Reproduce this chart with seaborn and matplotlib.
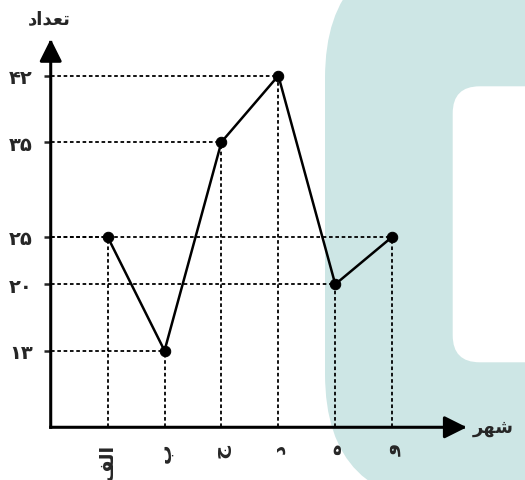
import matplotlib
matplotlib.use('Agg')
import matplotlib.pyplot as plt
from matplotlib.patches import FancyBboxPatch
import numpy as np
import pandas as pd
import seaborn as sns

# counts per city (cities: الف، ب، ج، د، ه، و)
# matplotlib has no arabic shaping, so multi-letter words are written
# in presentation forms, in visual (left to right) order
cities = ['\ufed2\ufedf\ufe8d', '\u0628', '\u062c', '\u062f', '\u0647', '\u0648']
counts = [25, 13, 35, 42, 20, 25]

y_ticks = [13, 20, 25, 35, 42]
y_tick_labels = ['\u06f1\u06f3', '\u06f2\u06f0', '\u06f2\u06f5', '\u06f3\u06f5', '\u06f4\u06f2']

x_title = '\ufeae\ufeec\ufeb7'              # شهر
y_title = '\ufea9\ufe8d\ufeaa\ufecc\ufe97'  # تعداد

sns.set_style('white')
plt.rcParams['font.family'] = ['DejaVu Sans']
plt.rcParams['font.weight'] = 'bold'

fig = plt.figure(figsize=(5.25, 4.81), dpi=100)

# teal watermark behind the chart (inches, so the corners stay round)
teal = FancyBboxPatch((3.25, -0.24), 4.0, 5.56, boxstyle='round,pad=0,rounding_size=1.3',
                      transform=fig.dpi_scale_trans, facecolor='#cde6e5',
                      edgecolor='none', zorder=-2)
hole = FancyBboxPatch((4.527, 1.177), 1.5, 2.76, boxstyle='round,pad=0,rounding_size=0.27',
                      transform=fig.dpi_scale_trans, facecolor='white',
                      edgecolor='none', zorder=-1)
fig.add_artist(teal)
fig.add_artist(hole)

ax = fig.add_axes([0.0966, 0.1096, 0.7924, 0.8073])
ax.patch.set_visible(False)

x_left, x_right = -1, 6.31
y_bottom, y_top = 4.92, 45.87

df = pd.DataFrame({'pos': np.arange(len(cities)), 'count': counts})

# dotted guides from each point to both axes
dots = (0, (2, 1.5))
ax.hlines(df['count'], x_left, df['pos'], colors='black', linestyles=dots, lw=1.3, zorder=1)
ax.vlines(df['pos'], y_bottom, df['count'], colors='black', linestyles=dots, lw=1.3, zorder=1)

sns.lineplot(data=df, x='pos', y='count', ax=ax, color='black', lw=1.8,
             marker='o', markersize=7.5, markeredgecolor='black', zorder=3)

ax.set_xlim(x_left, x_right)
ax.set_ylim(y_bottom, y_top)
ax.set_xticks(df['pos'], cities, rotation=90, fontsize=14)
ax.set_yticks(y_ticks, y_tick_labels, fontsize=14)
ax.tick_params(axis='x', length=0, pad=11)
ax.tick_params(axis='y', direction='out', length=5, width=1.8, pad=8, left=True)
ax.set_xlabel('')
ax.set_ylabel('')
sns.despine(ax=ax, left=True, bottom=True)

# axes as arrows
arrow = dict(arrowstyle='-|>', color='black', lw=2.2, mutation_scale=34,
             shrinkA=0, shrinkB=0, capstyle='projecting')
ax.annotate('', xy=(1, 0), xytext=(0, 0), xycoords='axes fraction',
            textcoords='axes fraction', arrowprops=arrow)
ax.annotate('', xy=(0, 1), xytext=(0, 0), xycoords='axes fraction',
            textcoords='axes fraction', arrowprops=arrow)

ax.annotate(y_title, xy=(0, 1), xycoords='axes fraction', xytext=(-1, 15),
            textcoords='offset points', ha='center', va='center', fontsize=13)
ax.annotate(x_title, xy=(1, 0), xycoords='axes fraction', xytext=(19, 0),
            textcoords='offset points', ha='center', va='center', fontsize=13)

fig.savefig('out.png', dpi=100)
